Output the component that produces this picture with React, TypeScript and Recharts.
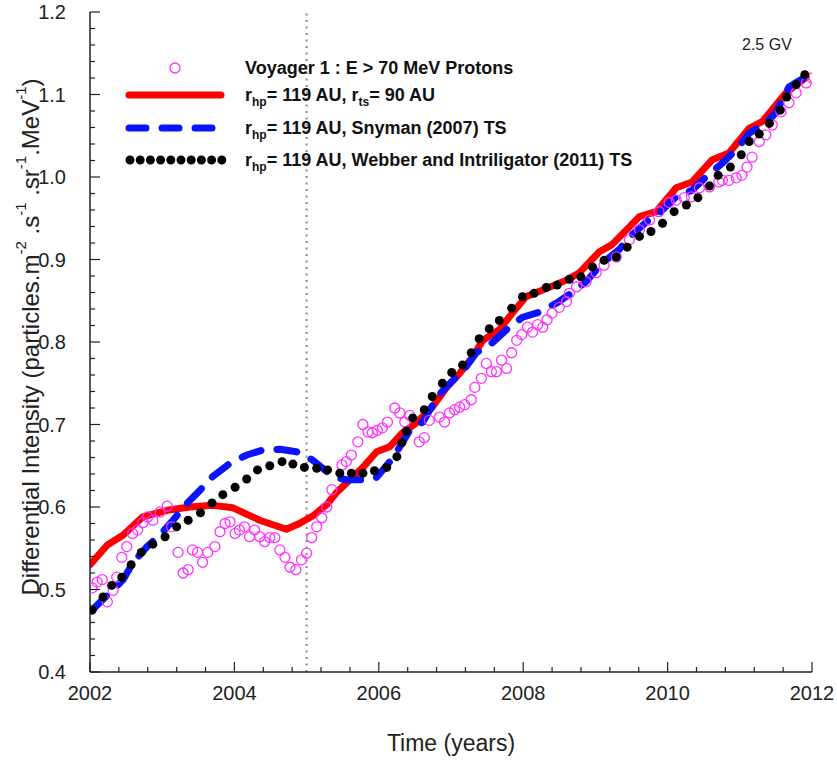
// Voyager 1 protons (E > 70 MeV) vs modelled intensities, 2002-2012.
import React from 'react';
import { ComposedChart, Line, Scatter, XAxis, YAxis, ReferenceLine, Legend } from 'recharts';

const FONT = '"Liberation Sans", Arial, Helvetica, sans-serif';

// axis ticks
const xTicks = [2002, 2002.4, 2002.8, 2003.2, 2003.6, 2004, 2004.4, 2004.8, 2005.2, 2005.6, 2006, 2006.4, 2006.8,
  2007.2, 2007.6, 2008, 2008.4, 2008.8, 2009.2, 2009.6, 2010, 2010.4, 2010.8, 2011.2, 2011.6, 2012];
const xLabels = [2002, 2004, 2006, 2008, 2010, 2012];
const yTicks = [0.4, 0.42, 0.44, 0.46, 0.48, 0.5, 0.52, 0.54, 0.56, 0.58, 0.6, 0.62, 0.64, 0.66, 0.68, 0.7,
  0.72, 0.74, 0.76, 0.78, 0.8, 0.82, 0.84, 0.86, 0.88, 0.9, 0.92, 0.94, 0.96, 0.98, 1.0, 1.02, 1.04, 1.06, 1.08,
  1.1, 1.12, 1.14, 1.16, 1.18, 1.2];
const yLabels = [0.4, 0.5, 0.6, 0.7, 0.8, 0.9, 1.0, 1.1, 1.2];

// r_hp = 119 AU, r_ts = 90 AU (red)
const modelTs90 = [
  { t: 2002.0, v: 0.530 }, { t: 2002.24, v: 0.554 }, { t: 2002.46, v: 0.566 }, { t: 2002.73, v: 0.588 },
  { t: 2003.07, v: 0.596 }, { t: 2003.38, v: 0.600 }, { t: 2003.7, v: 0.602 }, { t: 2003.98, v: 0.599 },
  { t: 2004.35, v: 0.584 }, { t: 2004.72, v: 0.573 }, { t: 2004.9, v: 0.580 }, { t: 2005.1, v: 0.590 },
  { t: 2005.28, v: 0.603 }, { t: 2005.42, v: 0.618 }, { t: 2005.6, v: 0.633 }, { t: 2005.78, v: 0.648 },
  { t: 2005.97, v: 0.667 }, { t: 2006.15, v: 0.673 }, { t: 2006.33, v: 0.690 }, { t: 2006.52, v: 0.702 },
  { t: 2006.74, v: 0.721 }, { t: 2006.94, v: 0.745 }, { t: 2007.12, v: 0.762 }, { t: 2007.3, v: 0.782 },
  { t: 2007.44, v: 0.802 }, { t: 2007.67, v: 0.815 }, { t: 2007.85, v: 0.835 }, { t: 2008.04, v: 0.855 },
  { t: 2008.27, v: 0.863 }, { t: 2008.6, v: 0.875 }, { t: 2008.78, v: 0.884 }, { t: 2009.05, v: 0.909 },
  { t: 2009.23, v: 0.918 }, { t: 2009.61, v: 0.952 }, { t: 2009.84, v: 0.958 }, { t: 2010.12, v: 0.987 },
  { t: 2010.34, v: 0.994 }, { t: 2010.62, v: 1.021 }, { t: 2010.85, v: 1.029 }, { t: 2011.13, v: 1.059 },
  { t: 2011.31, v: 1.067 }, { t: 2011.64, v: 1.102 }, { t: 2011.92, v: 1.121 },
];

// r_hp = 119 AU, Snyman (2007) TS (blue dashed)
const modelSnyman = [
  { t: 2002.03, v: 0.475 }, { t: 2002.46, v: 0.512 }, { t: 2002.6, v: 0.533 }, { t: 2002.79, v: 0.552 },
  { t: 2002.97, v: 0.566 }, { t: 2003.15, v: 0.584 }, { t: 2003.35, v: 0.605 }, { t: 2003.53, v: 0.621 },
  { t: 2003.7, v: 0.637 }, { t: 2003.94, v: 0.653 }, { t: 2004.17, v: 0.663 }, { t: 2004.39, v: 0.669 },
  { t: 2004.63, v: 0.670 }, { t: 2004.86, v: 0.667 }, { t: 2005.08, v: 0.657 }, { t: 2005.28, v: 0.643 },
  { t: 2005.4, v: 0.636 }, { t: 2005.55, v: 0.633 }, { t: 2005.83, v: 0.633 }, { t: 2005.97, v: 0.636 },
  { t: 2006.19, v: 0.659 }, { t: 2006.29, v: 0.673 }, { t: 2006.43, v: 0.693 }, { t: 2006.61, v: 0.703 },
  { t: 2006.82, v: 0.735 }, { t: 2007.21, v: 0.770 }, { t: 2007.35, v: 0.787 }, { t: 2007.57, v: 0.799 },
  { t: 2007.77, v: 0.815 }, { t: 2007.99, v: 0.830 }, { t: 2008.22, v: 0.836 }, { t: 2008.46, v: 0.847 },
  { t: 2008.68, v: 0.860 }, { t: 2008.87, v: 0.873 }, { t: 2009.1, v: 0.896 }, { t: 2009.33, v: 0.912 },
  { t: 2009.47, v: 0.927 }, { t: 2009.7, v: 0.945 }, { t: 2009.88, v: 0.956 }, { t: 2010.12, v: 0.976 },
  { t: 2010.34, v: 0.984 }, { t: 2010.53, v: 1.000 }, { t: 2010.76, v: 1.017 }, { t: 2010.95, v: 1.033 },
  { t: 2011.13, v: 1.053 }, { t: 2011.36, v: 1.065 }, { t: 2011.5, v: 1.078 }, { t: 2011.68, v: 1.109 },
  { t: 2011.96, v: 1.124 },
];

// r_hp = 119 AU, Webber and Intriligator (2011) TS (black dots)
const modelWebber = [
  { t: 2002.03, v: 0.475 }, { t: 2002.18, v: 0.491 }, { t: 2002.3, v: 0.505 }, { t: 2002.44, v: 0.515 },
  { t: 2002.57, v: 0.530 }, { t: 2002.71, v: 0.545 }, { t: 2002.87, v: 0.555 }, { t: 2003.04, v: 0.564 },
  { t: 2003.2, v: 0.576 }, { t: 2003.36, v: 0.584 }, { t: 2003.53, v: 0.593 }, { t: 2003.69, v: 0.605 },
  { t: 2003.84, v: 0.615 }, { t: 2004.01, v: 0.624 }, { t: 2004.17, v: 0.634 }, { t: 2004.32, v: 0.645 },
  { t: 2004.49, v: 0.650 }, { t: 2004.66, v: 0.655 }, { t: 2004.81, v: 0.652 }, { t: 2004.97, v: 0.648 },
  { t: 2005.14, v: 0.647 }, { t: 2005.29, v: 0.645 }, { t: 2005.46, v: 0.641 }, { t: 2005.62, v: 0.641 },
  { t: 2005.78, v: 0.641 }, { t: 2005.94, v: 0.644 }, { t: 2006.11, v: 0.648 }, { t: 2006.25, v: 0.661 },
  { t: 2006.32, v: 0.678 }, { t: 2006.38, v: 0.692 }, { t: 2006.47, v: 0.708 }, { t: 2006.63, v: 0.718 },
  { t: 2006.74, v: 0.734 }, { t: 2006.88, v: 0.750 }, { t: 2007.01, v: 0.763 }, { t: 2007.16, v: 0.772 },
  { t: 2007.28, v: 0.787 }, { t: 2007.39, v: 0.804 }, { t: 2007.53, v: 0.816 }, { t: 2007.67, v: 0.826 },
  { t: 2007.84, v: 0.841 }, { t: 2007.99, v: 0.855 }, { t: 2008.15, v: 0.859 }, { t: 2008.32, v: 0.866 },
  { t: 2008.47, v: 0.869 }, { t: 2008.64, v: 0.876 }, { t: 2008.8, v: 0.879 }, { t: 2008.96, v: 0.891 },
  { t: 2009.12, v: 0.899 }, { t: 2009.29, v: 0.903 }, { t: 2009.44, v: 0.915 }, { t: 2009.61, v: 0.928 },
  { t: 2009.77, v: 0.934 }, { t: 2009.93, v: 0.944 }, { t: 2010.09, v: 0.958 }, { t: 2010.26, v: 0.966 },
  { t: 2010.42, v: 0.975 }, { t: 2010.58, v: 0.989 }, { t: 2010.7, v: 1.002 }, { t: 2010.87, v: 1.012 },
  { t: 2011.02, v: 1.027 }, { t: 2011.13, v: 1.043 }, { t: 2011.27, v: 1.052 }, { t: 2011.41, v: 1.065 },
  { t: 2011.56, v: 1.081 }, { t: 2011.65, v: 1.097 }, { t: 2011.78, v: 1.112 }, { t: 2011.9, v: 1.124 },
];

// Voyager 1 observations (magenta open circles)
const voyager = [
  { t: 2002.03, v: 0.502 }, { t: 2002.1, v: 0.509 }, { t: 2002.17, v: 0.512 }, { t: 2002.24, v: 0.485 },
  { t: 2002.32, v: 0.499 }, { t: 2002.37, v: 0.515 }, { t: 2002.44, v: 0.539 }, { t: 2002.51, v: 0.552 },
  { t: 2002.59, v: 0.568 }, { t: 2002.66, v: 0.572 }, { t: 2002.73, v: 0.581 }, { t: 2002.8, v: 0.588 },
  { t: 2002.87, v: 0.584 }, { t: 2002.97, v: 0.594 }, { t: 2003.07, v: 0.601 }, { t: 2003.13, v: 0.576 },
  { t: 2003.22, v: 0.545 }, { t: 2003.29, v: 0.520 }, { t: 2003.36, v: 0.524 }, { t: 2003.42, v: 0.548 },
  { t: 2003.49, v: 0.545 }, { t: 2003.56, v: 0.533 }, { t: 2003.63, v: 0.545 }, { t: 2003.73, v: 0.552 },
  { t: 2003.8, v: 0.570 }, { t: 2003.87, v: 0.580 }, { t: 2003.94, v: 0.582 }, { t: 2004.01, v: 0.568 },
  { t: 2004.07, v: 0.572 }, { t: 2004.14, v: 0.576 }, { t: 2004.21, v: 0.564 }, { t: 2004.28, v: 0.572 },
  { t: 2004.35, v: 0.564 }, { t: 2004.42, v: 0.558 }, { t: 2004.49, v: 0.563 }, { t: 2004.56, v: 0.563 },
  { t: 2004.63, v: 0.548 }, { t: 2004.7, v: 0.539 }, { t: 2004.77, v: 0.527 }, { t: 2004.85, v: 0.524 },
  { t: 2004.93, v: 0.536 }, { t: 2005.0, v: 0.544 }, { t: 2005.07, v: 0.563 }, { t: 2005.14, v: 0.576 },
  { t: 2005.21, v: 0.587 }, { t: 2005.28, v: 0.600 }, { t: 2005.35, v: 0.621 }, { t: 2005.49, v: 0.651 },
  { t: 2005.55, v: 0.655 }, { t: 2005.62, v: 0.663 }, { t: 2005.71, v: 0.679 }, { t: 2005.78, v: 0.700 },
  { t: 2005.85, v: 0.691 }, { t: 2005.91, v: 0.690 }, { t: 2005.98, v: 0.693 }, { t: 2006.05, v: 0.696 },
  { t: 2006.12, v: 0.703 }, { t: 2006.22, v: 0.720 }, { t: 2006.29, v: 0.714 }, { t: 2006.36, v: 0.703 },
  { t: 2006.43, v: 0.711 }, { t: 2006.56, v: 0.679 }, { t: 2006.63, v: 0.684 }, { t: 2006.7, v: 0.705 },
  { t: 2006.84, v: 0.709 }, { t: 2006.91, v: 0.703 }, { t: 2006.98, v: 0.714 }, { t: 2007.05, v: 0.718 },
  { t: 2007.12, v: 0.721 }, { t: 2007.19, v: 0.724 }, { t: 2007.28, v: 0.730 }, { t: 2007.33, v: 0.745 },
  { t: 2007.42, v: 0.756 }, { t: 2007.49, v: 0.774 }, { t: 2007.56, v: 0.764 }, { t: 2007.63, v: 0.764 },
  { t: 2007.7, v: 0.778 }, { t: 2007.77, v: 0.768 }, { t: 2007.84, v: 0.787 }, { t: 2007.91, v: 0.802 },
  { t: 2007.98, v: 0.809 }, { t: 2008.06, v: 0.818 }, { t: 2008.13, v: 0.812 }, { t: 2008.2, v: 0.821 },
  { t: 2008.27, v: 0.818 }, { t: 2008.33, v: 0.827 }, { t: 2008.4, v: 0.835 }, { t: 2008.5, v: 0.842 },
  { t: 2008.6, v: 0.849 }, { t: 2008.64, v: 0.859 }, { t: 2008.74, v: 0.867 }, { t: 2008.87, v: 0.873 },
  { t: 2009.01, v: 0.884 }, { t: 2009.12, v: 0.893 }, { t: 2009.29, v: 0.903 }, { t: 2009.47, v: 0.924 },
  { t: 2009.61, v: 0.936 }, { t: 2009.75, v: 0.948 }, { t: 2009.88, v: 0.958 }, { t: 2010.02, v: 0.969 },
  { t: 2010.12, v: 0.972 }, { t: 2010.23, v: 0.975 }, { t: 2010.33, v: 0.976 }, { t: 2010.44, v: 0.987 },
  { t: 2010.58, v: 0.988 }, { t: 2010.71, v: 0.994 }, { t: 2010.76, v: 0.996 }, { t: 2010.85, v: 0.996 },
  { t: 2010.95, v: 0.999 }, { t: 2011.03, v: 1.002 }, { t: 2011.1, v: 1.012 }, { t: 2011.17, v: 1.024 },
  { t: 2011.27, v: 1.043 }, { t: 2011.36, v: 1.051 }, { t: 2011.45, v: 1.063 }, { t: 2011.57, v: 1.079 },
  { t: 2011.68, v: 1.090 }, { t: 2011.78, v: 1.102 }, { t: 2011.92, v: 1.114 }, { t: 2012.0, v: 1.120 },
];

const AXIS = '#222';
const isYMajor = (v: number) => yLabels.some((l) => Math.abs(l - v) < 1e-6);

// ticks point into the plot, like the original figure
const BottomTick = ({ x, y, payload }: any) => {
  const major = xLabels.includes(payload.value);
  return (
    <g>
      <line x1={x} x2={x} y1={y} y2={y - (major ? 10 : 5)} stroke={AXIS} strokeWidth={1.2} />
      {major && (
        <text x={x} y={y + 28} textAnchor="middle" fontSize={20} fill={AXIS} fontFamily={FONT}>
          {payload.value}
        </text>
      )}
    </g>
  );
};

const TopTick = ({ x, y, payload }: any) => {
  const major = xLabels.includes(payload.value);
  return <line x1={x} x2={x} y1={y} y2={y + (major ? 10 : 5)} stroke={AXIS} strokeWidth={1.2} />;
};

const LeftTick = ({ x, y, payload }: any) => {
  const major = isYMajor(payload.value);
  return (
    <g>
      <line x1={x} x2={x + (major ? 10 : 5)} y1={y} y2={y} stroke={AXIS} strokeWidth={1.2} />
      {major && (
        <text x={x - 24} y={y + 7} textAnchor="end" fontSize={20} fill={AXIS} fontFamily={FONT}>
          {payload.value.toFixed(1)}
        </text>
      )}
    </g>
  );
};

const RightTick = ({ x, y, payload }: any) => {
  const major = isYMajor(payload.value);
  return <line x1={x} x2={x - (major ? 10 : 5)} y1={y} y2={y} stroke={AXIS} strokeWidth={1.2} />;
};

const YTitle = () => {
  const sup = { fontSize: 15 };
  return (
    <text x={30} y={337} transform="rotate(-90 30 337)" textAnchor="middle" dominantBaseline="central"
      fontSize={24} fill={AXIS} fontFamily={FONT}>
      Differential Intensity (particles.m
      <tspan dy={-10} style={sup}>-2</tspan>
      <tspan dy={10}> .s</tspan>
      <tspan dy={-10} style={sup}>-1</tspan>
      <tspan dy={10}> .sr</tspan>
      <tspan dy={-10} style={sup}>-1</tspan>
      <tspan dy={10}>.MeV</tspan>
      <tspan dy={-10} style={sup}>-1</tspan>
      <tspan dy={10}>)</tspan>
    </text>
  );
};

const sub = { fontSize: 12, verticalAlign: 'sub' as const, lineHeight: 0 };

const LegendBox = () => {
  const row = (top: number, icon: React.ReactNode, label: React.ReactNode) => (
    <div style={{ position: 'absolute', left: 0, top, height: 28, display: 'flex', alignItems: 'center', whiteSpace: 'nowrap' }}>
      <svg width={120} height={28}>{icon}</svg>
      <span>{label}</span>
    </div>
  );
  return (
    <div style={{ position: 'relative', width: 580, height: 170, fontFamily: FONT, fontWeight: 'bold', fontSize: 18, color: '#111' }}>
      {row(0, <circle cx={50} cy={14} r={5} fill="none" stroke="#ff33ff" strokeWidth={1.3} />,
        'Voyager 1 : E > 70 MeV Protons')}
      {row(27, <line x1={4} x2={96} y1={14} y2={14} stroke="#ff0000" strokeWidth={7} strokeLinecap="round" />,
        <>r<span style={sub}>hp</span>= 119 AU, r<span style={sub}>ts</span>= 90 AU</>)}
      {row(60, <line x1={4} x2={90} y1={14} y2={14} stroke="#0a14ff" strokeWidth={7} strokeLinecap="round" strokeDasharray="17 16" />,
        <>r<span style={sub}>hp</span>= 119 AU, Snyman (2007) TS</>)}
      {row(92, <line x1={5} x2={97} y1={14} y2={14} stroke="#000" strokeWidth={9} strokeLinecap="round" strokeDasharray="0 10.2" />,
        <>r<span style={sub}>hp</span>= 119 AU, Webber and Intriligator (2011) TS</>)}
    </div>
  );
};

export default function App() {
  return (
    <div style={{ position: 'absolute', left: 0, top: 0, width: 837, height: 760, fontFamily: FONT }}>
      <style>{'html, body { overflow: hidden; }'}</style>
      <ComposedChart width={837} height={760} margin={{ top: 12, right: 25, bottom: 0, left: 30 }}>
        <XAxis xAxisId="b" type="number" dataKey="t" domain={[2002, 2012]} ticks={xTicks} interval={0}
          allowDataOverflow tick={BottomTick} tickLine={false} tickSize={0} tickMargin={0} height={88}
          axisLine={{ stroke: AXIS, strokeWidth: 1.5 }}
          label={{ value: 'Time (years)', position: 'insideBottom', offset: 9, fontSize: 23, fill: AXIS, fontFamily: FONT }} />
        <XAxis xAxisId="t" orientation="top" type="number" dataKey="t" domain={[2002, 2012]} ticks={xTicks}
          interval={0} allowDataOverflow tick={TopTick} tickLine={false} tickSize={0} tickMargin={0} height={0}
          axisLine={{ stroke: AXIS, strokeWidth: 1.5 }} />
        <YAxis yAxisId="l" type="number" dataKey="v" domain={[0.4, 1.2]} ticks={yTicks} interval={0}
          allowDataOverflow tick={LeftTick} tickLine={false} tickSize={0} tickMargin={0} width={60}
          axisLine={{ stroke: AXIS, strokeWidth: 1.5 }} label={<YTitle />} />
        <YAxis yAxisId="r" orientation="right" type="number" dataKey="v" domain={[0.4, 1.2]} ticks={yTicks}
          interval={0} allowDataOverflow tick={RightTick} tickLine={false} tickSize={0} tickMargin={0} width={0}
          axisLine={{ stroke: AXIS, strokeWidth: 1.5 }} />

        <ReferenceLine xAxisId="b" yAxisId="l" x={2005} stroke="#888" strokeWidth={2} strokeDasharray="2 4.5" />

        <Line xAxisId="b" yAxisId="l" data={modelTs90} dataKey="v" type="linear" stroke="#ff0000" strokeWidth={7}
          strokeLinecap="round" strokeLinejoin="round" dot={false} isAnimationActive={false} />
        <Line xAxisId="b" yAxisId="l" data={modelSnyman} dataKey="v" type="linear" stroke="#0a14ff" strokeWidth={7}
          strokeLinecap="round" strokeLinejoin="round" strokeDasharray="20 16" dot={false} isAnimationActive={false} />
        <Line xAxisId="b" yAxisId="l" data={modelWebber} dataKey="v" type="linear" stroke="none"
          dot={{ r: 4.5, fill: '#000', stroke: 'none' }} isAnimationActive={false} />
        <Scatter xAxisId="b" yAxisId="l" data={voyager} dataKey="v" isAnimationActive={false}
          shape={(p: any) => <circle cx={p.cx} cy={p.cy} r={5} fill="none" stroke="#ff33ff" strokeWidth={1.3} />} />

        <Legend layout="vertical" align="center" verticalAlign="middle" content={<LegendBox />}
          wrapperStyle={{ left: 125, top: 54, width: 580 }} />
      </ComposedChart>
      <div style={{ position: 'absolute', left: 742, top: 36, fontSize: 16, color: AXIS, fontFamily: FONT }}>2.5 GV</div>
    </div>
  );
}
